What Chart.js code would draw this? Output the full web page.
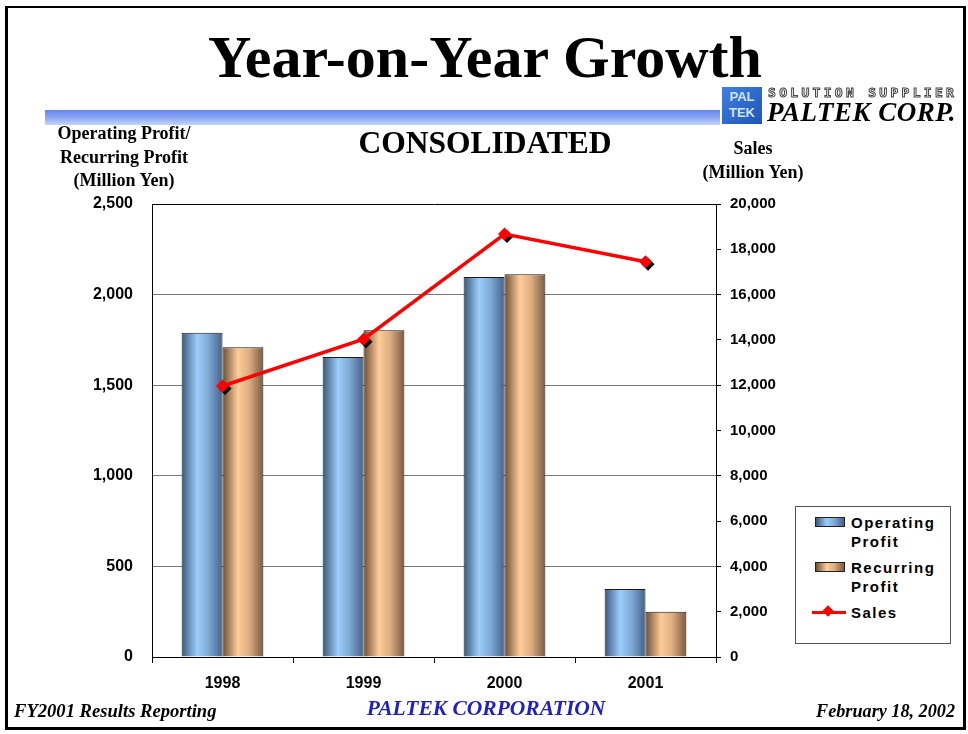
<!DOCTYPE html>
<html>
<head>
<meta charset="utf-8">
<script src="https://cdn.jsdelivr.net/npm/chart.js@4"></script>
<style>
  html, body { margin:0; padding:0; background:#fff; }
  body { width:968px; height:734px; position:relative; overflow:hidden; }
  .abs { position:absolute; white-space:nowrap; }
  .serifb { font-family:"Liberation Serif","Times New Roman",serif; font-weight:bold; }
  #frame { position:absolute; left:5px; top:6px; width:961px; height:724px; box-sizing:border-box;
           border:3px solid #000; border-top-width:2px; }
  #band { position:absolute; left:45px; top:110px; width:675px; height:15px;
          background:linear-gradient(to bottom,#5f86ee 0%,#8eaaf2 55%,#c8d5fa 100%); }
  canvas { position:absolute; left:0; top:0; }
  .leg { font-family:"Liberation Sans",Arial,sans-serif; font-weight:bold; font-size:15px; letter-spacing:1.5px; color:#000; line-height:19px; }
</style>
</head>
<body>
<div id="frame"></div>
<div id="band"></div>
<canvas id="c" width="968" height="734"></canvas>

<div class="abs serifb" style="left:185px;top:21px;width:600px;text-align:center;font-size:60px;line-height:72px;">Year-on-Year Growth</div>
<div class="abs serifb" style="left:335px;top:124px;width:300px;text-align:center;font-size:31.5px;line-height:38px;">CONSOLIDATED</div>

<div class="abs" style="left:722px;top:87px;width:40px;height:37px;background:linear-gradient(135deg,#3f7fe0,#1f55b8);color:#cfe3ff;font:bold 13px 'Liberation Sans',Arial,sans-serif;line-height:16px;text-align:center;padding-top:2px;box-sizing:border-box;">PAL<br>TEK</div>
<div class="abs" style="left:768px;top:85px;font:bold 13px 'DejaVu Sans Mono',monospace;letter-spacing:3.3px;color:#fff;-webkit-text-stroke:1px #444;line-height:16px;">SOLUTION SUPPLIER</div>
<div class="abs serifb" style="left:767px;top:97px;font-style:italic;font-size:27px;line-height:30px;letter-spacing:0.5px;">PALTEK CORP.</div>

<div class="abs serifb" style="left:24px;top:122px;width:200px;text-align:center;font-size:18px;line-height:23.5px;">Operating Profit/<br>Recurring Profit<br>(Million Yen)</div>
<div class="abs serifb" style="left:653px;top:137px;width:200px;text-align:center;font-size:18px;line-height:23.5px;">Sales<br>(Million Yen)</div>

<div class="abs" style="left:795px;top:506px;width:156px;height:138px;border:1px solid #555;box-sizing:border-box;background:#fff;"></div>
<div class="abs" style="left:815px;top:517px;width:30px;height:10px;border:1px solid #222;box-sizing:border-box;background:linear-gradient(to right,#3a5878 0%,#9ccdfd 38%,#80aad6 65%,#46628a 100%);"></div>
<div class="abs leg" style="left:851px;top:513px;">Operating<br>Profit</div>
<div class="abs" style="left:815px;top:562px;width:30px;height:10px;border:1px solid #222;box-sizing:border-box;background:linear-gradient(to right,#6a4e34 0%,#ffcc99 38%,#deae80 65%,#785a42 100%);"></div>
<div class="abs leg" style="left:851px;top:558px;">Recurring<br>Profit</div>
<div class="abs" style="left:812px;top:611px;width:34px;height:3px;background:#ff0000;"></div>
<div class="abs" style="left:824px;top:607px;width:8px;height:8px;background:#ff0000;transform:rotate(45deg);"></div>
<div class="abs leg" style="left:851px;top:603px;">Sales</div>

<div class="abs serifb" style="left:14px;top:699px;font-style:italic;font-size:18.6px;line-height:24px;">FY2001 Results Reporting</div>
<div class="abs serifb" style="left:286px;top:696px;width:400px;text-align:center;font-style:italic;font-size:21.5px;line-height:25px;color:#2020c4;">PALTEK CORPORATION</div>
<div class="abs serifb" style="left:655px;top:699px;width:300px;text-align:right;font-style:italic;font-size:18.2px;line-height:24px;">February 18, 2002</div>

<script>
// ---- data ----
const categories = ['1998', '1999', '2000', '2001'];
const operatingProfit = [1790, 1655, 2097, 375];
const recurringProfit = [1710, 1803, 2112, 250];
const sales = [11965, 14030, 18675, 17450];
const leftTicks = [0, 500, 1000, 1500, 2000, 2500];
const rightTicks = [0, 2000, 4000, 6000, 8000, 10000, 12000, 14000, 16000, 18000, 20000];

const CAT_PCT = 0.58;
const blueStops = [[0,'#3a5878'],[0.38,'#9ccdfd'],[0.65,'#80aad6'],[1,'#46628a']];
const orangeStops = [[0,'#6a4e34'],[0.38,'#ffcc99'],[0.65,'#deae80'],[1,'#785a42']];

function barGrad(stops, fallback) {
  return function(ctx) {
    const chart = ctx.chart;
    const xs = chart.scales && chart.scales.x;
    if (ctx.type !== 'data' || !xs || !xs.width) return fallback;
    const center = xs.getPixelForValue(ctx.dataIndex);
    const w = (xs.width / categories.length) * CAT_PCT / 2;
    const left = ctx.datasetIndex === 0 ? center - w : center;
    const g = chart.ctx.createLinearGradient(left, 0, left + w, 0);
    stops.forEach(s => g.addColorStop(s[0], s[1]));
    return g;
  };
}

const diamondShadow = {
  id: 'diamondShadow',
  beforeDatasetDraw(chart, args) {
    if (args.index !== 2) return;
    const c = chart.ctx;
    const meta = chart.getDatasetMeta(2);
    c.save();
    c.fillStyle = '#000';
    meta.data.forEach(p => {
      const r = 6.5, x = p.x + 2.5, y = p.y + 2.5;
      c.beginPath();
      c.moveTo(x, y - r); c.lineTo(x + r, y); c.lineTo(x, y + r); c.lineTo(x - r, y);
      c.closePath(); c.fill();
    });
    c.restore();
  }
};

const tickFont = { family: "'Liberation Sans', Arial, sans-serif", weight: 'bold', size: 15 };
const xTickFont = { family: "'Liberation Sans', Arial, sans-serif", weight: 'bold', size: 16 };

new Chart(document.getElementById('c'), {
  type: 'bar',
  data: {
    labels: categories,
    datasets: [
      { label: 'Operating Profit', data: operatingProfit, yAxisID: 'y', order: 1,
        backgroundColor: barGrad(blueStops, '#7fa8d8'), borderColor: '#1a1a1a', borderWidth: 1,
        categoryPercentage: CAT_PCT, barPercentage: 1.0 },
      { label: 'Recurring Profit', data: recurringProfit, yAxisID: 'y', order: 1,
        backgroundColor: barGrad(orangeStops, '#e0b080'), borderColor: '#1a1a1a', borderWidth: 1,
        categoryPercentage: CAT_PCT, barPercentage: 1.0 },
      { type: 'line', label: 'Sales', data: sales, yAxisID: 'y1', order: 0,
        borderColor: '#ff0000', borderWidth: 3.5, backgroundColor: '#ff0000',
        pointStyle: 'rectRot', pointRadius: 6.5, pointBorderWidth: 0, pointBackgroundColor: '#ff0000',
        tension: 0, fill: false }
    ]
  },
  options: {
    responsive: false,
    devicePixelRatio: 1,
    animation: false,
    layout: { padding: { top: 204, left: 0, right: 172, bottom: 37 } },
    plugins: { legend: { display: false }, tooltip: { enabled: false }, title: { display: false } },
    scales: {
      x: {
        offset: true,
        grid: { display: true, drawOnChartArea: false, drawTicks: true, tickLength: 6, color: '#000', offset: true },
        border: { display: true, color: '#000', width: 1 },
        ticks: { color: '#000', font: xTickFont, padding: 11, maxRotation: 0 },
        afterFit(s) { s.height = 40; }
      },
      y: {
        position: 'left',
        min: 0, max: 2500,
        afterBuildTicks(s) { s.ticks = leftTicks.map(v => ({ value: v })); },
        grid: { drawTicks: false, color: c => (c.tick && c.tick.value === 2500) ? '#000' : '#7a7a7a', lineWidth: 1 },
        border: { display: true, color: '#000', width: 1 },
        ticks: { color: '#000', font: xTickFont, padding: 19,
                 callback: v => v.toLocaleString('en-US') },
        afterFit(s) { s.width = 152; }
      },
      y1: {
        position: 'right',
        min: 0, max: 20000,
        afterBuildTicks(s) { s.ticks = rightTicks.map(v => ({ value: v })); },
        grid: { drawOnChartArea: false, drawTicks: true, tickLength: 5, color: '#000' },
        border: { display: true, color: '#000', width: 1 },
        ticks: { color: '#000', font: tickFont, padding: 9,
                 callback: v => v.toLocaleString('en-US') },
        afterFit(s) { s.width = 80; }
      }
    }
  },
  plugins: [diamondShadow]
});
</script>
</body>
</html>
